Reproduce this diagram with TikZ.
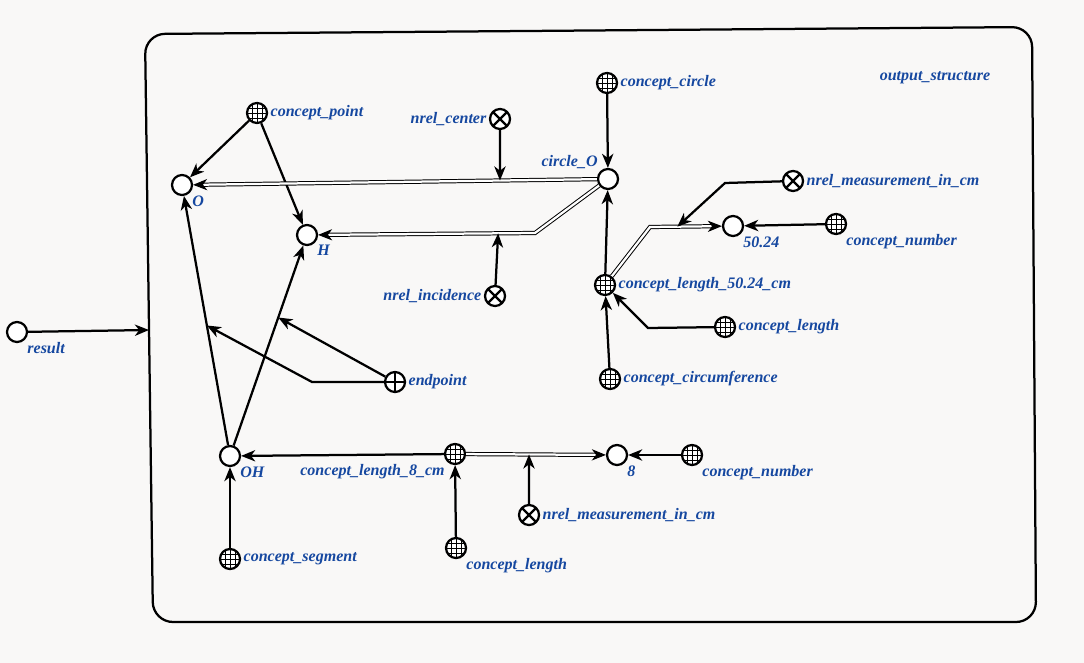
\documentclass[tikz,border=0pt]{standalone}
\usepackage{fontspec}
\setmainfont{Liberation Serif}
\usetikzlibrary{arrows.meta}
\definecolor{paper}{RGB}{249,248,247}
\definecolor{scblue}{RGB}{22,72,160}
\begin{document}
\begin{tikzpicture}[x=0.025cm, y=-0.025cm, line width=1.6pt,
  arr/.style={-{Stealth[length=10pt, width=8pt, inset=3pt]}},
  dbl/.style={arr, double=white, double distance=1.6pt, line width=0.7pt},
  lbl/.style={text=scblue, font=\fontsize{11.4}{13}\selectfont\bfseries\itshape, inner sep=1pt},
  elem/.style={circle, draw, line width=1.6pt, fill=white, minimum size=0.5cm, inner sep=0pt},
  cls/.style={elem, path picture={
    \foreach \t in {-0.5,0,0.5}{
      \draw[line width=0.55pt] ([xshift=\t*0.25cm]path picture bounding box.north) -- ([xshift=\t*0.25cm]path picture bounding box.south);
      \draw[line width=0.55pt] ([yshift=\t*0.25cm]path picture bounding box.west) -- ([yshift=\t*0.25cm]path picture bounding box.east);}}},
  nrel/.style={elem, path picture={
    \draw (path picture bounding box.north west) -- (path picture bounding box.south east);
    \draw (path picture bounding box.north east) -- (path picture bounding box.south west);}},
  role/.style={elem, path picture={
    \draw (path picture bounding box.north) -- (path picture bounding box.south);
    \draw (path picture bounding box.west) -- (path picture bounding box.east);}}]
  \fill[paper] (0,0) rectangle (1084,663);
  \useasboundingbox (0,0) rectangle (1084,663);
  \draw[line width=1.6pt, rounded corners=0.5cm] (590,30.5) -- (1032,27) -- (1036,622) -- (153,622) -- (145,34) -- cycle;
  \coordinate (frin) at (149,330);
  \node[lbl] (ostruct) at (935,78) {output\_structure};

  \node[elem, label={[lbl]below right:result}] (result) at (17,332) {};
  \node[cls, label={[lbl]right:concept\_point}] (cpoint) at (257,113) {};
  \node[elem, label={[lbl]below right:O}] (O) at (182,185) {};
  \node[elem, label={[lbl]below right:H}] (H) at (307,235) {};
  \node[nrel, label={[lbl]left:nrel\_center}] (ncenter) at (500,119) {};
  \node[elem, label={[lbl]above left:circle\_O}] (circO) at (608,179) {};
  \node[cls, label={[lbl]right:concept\_circle}] (ccircle) at (607,83) {};
  \node[nrel, label={[lbl]left:nrel\_incidence}] (ninc) at (495,296) {};
  \node[nrel, label={[lbl]right:nrel\_measurement\_in\_cm}] (nmeasA) at (793,181) {};
  \node[elem, label={[lbl]below right:50.24}] (n5024) at (733,226) {};
  \node[cls, label={[lbl]below right:concept\_number}] (cnumA) at (836,224) {};
  \node[cls, label={[lbl]right:concept\_length\_50.24\_cm}] (cl50) at (605,285) {};
  \node[cls, label={[lbl]right:concept\_length}] (clenA) at (725,327) {};
  \node[cls, label={[lbl]right:concept\_circumference}] (ccirc) at (610,379) {};
  \node[role, label={[lbl]right:endpoint}] (endp) at (395,382) {};
  \node[elem, label={[lbl]below right:OH}] (OH) at (230,456) {};
  \node[cls, label={[lbl]below left:concept\_length\_8\_cm}] (cl8) at (455,454) {};
  \node[elem, label={[lbl]below right:8}] (n8) at (617,455) {};
  \node[cls, label={[lbl]below right:concept\_number}] (cnumB) at (692,455) {};
  \node[nrel, label={[lbl]right:nrel\_measurement\_in\_cm}] (nmeasB) at (529,515) {};
  \node[cls, label={[lbl]below right:concept\_length}] (clenB) at (456,548) {};
  \node[cls, label={[lbl]right:concept\_segment}] (cseg) at (230,559) {};

  \coordinate (bH) at (535,233);
  \coordinate (b50) at (650,227);
  \coordinate (bA) at (725,183);
  \coordinate (bB) at (648,328);
  \coordinate (bE) at (312,382);

  \draw[arr] (result) -- (frin);
  \draw[arr] (cpoint) -- (O);
  \draw[arr] (cpoint) -- (H);
  \draw[dbl] (circO) -- (O) coordinate[pos=0.24] (mO);
  \draw[arr] (ncenter) -- (mO);
  \draw[dbl] (circO) -- (bH) -- (H) coordinate[pos=0.17] (mH);
  \draw[arr] (ninc) -- (mH);
  \draw[arr] (ccircle) -- (circO);
  \draw[arr] (cl50) -- (circO);
  \draw[dbl] (cl50) -- (b50) -- (n5024) coordinate[pos=0.38] (m50);
  \draw[arr] (nmeasA) -- (bA) -- (m50);
  \draw[arr] (cnumA) -- (n5024);
  \draw[arr] (clenA) -- (bB) -- (cl50);
  \draw[arr] (ccirc) -- (cl50);
  \draw[arr] (OH) -- (O) coordinate[pos=0.48] (mOHO);
  \draw[arr] (OH) -- (H) coordinate[pos=0.64] (mOHH);
  \draw[arr] (endp) -- (mOHH);
  \draw[arr] (endp) -- (bE) -- (mOHO);
  \draw[arr] (cseg) -- (OH);
  \draw[arr] (cl8) -- (OH);
  \draw[dbl] (cl8) -- (n8) coordinate[pos=0.45] (m8);
  \draw[arr] (nmeasB) -- (m8);
  \draw[arr] (clenB) -- (cl8);
  \draw[arr] (cnumB) -- (n8);
\end{tikzpicture}
\end{document}
